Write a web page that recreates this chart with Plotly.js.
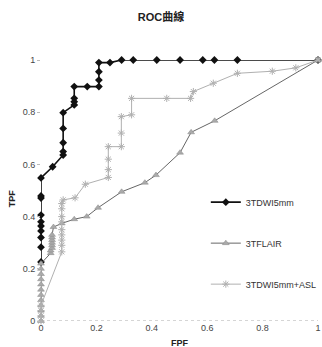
<!DOCTYPE html>
<html><head><meta charset="utf-8">
<script src="https://cdn.plot.ly/plotly-3.0.1.min.js"></script>
<style>html,body{margin:0;padding:0;background:#fff}#c{width:322px;height:347px}</style>
</head><body><div id="c"></div>
<script>
const dwiName = "3TDWI5mm";
const dwiX = [0,0,0,0,0,0,0,0,0,0,0.042,0.08,0.08,0.08,0.08,0.08,0.12,0.12,0.12,0.12,0.167,0.209,0.209,0.209,0.209,0.249,0.291,0.333,0.418,0.502,0.584,0.626,0.709,1];
const dwiY = [0.226,0.283,0.32,0.345,0.364,0.38,0.406,0.471,0.479,0.548,0.591,0.636,0.649,0.683,0.738,0.798,0.828,0.84,0.853,0.898,0.898,0.898,0.923,0.955,0.99,0.99,1,1,1,1,1,1,1,1];

const flairName = "3TFLAIR";
const flairX = [0,0,0,0,0,0,0,0,0,0,0,0,0.035,0.035,0.04,0.04,0.04,0.04,0.04,0.04,0.045,0.075,0.12,0.165,0.206,0.291,0.375,0.415,0.502,0.542,0.627,1];
const flairY = [0,0.02,0.04,0.06,0.08,0.1,0.12,0.14,0.16,0.18,0.2,0.22,0.26,0.27,0.28,0.29,0.3,0.31,0.32,0.33,0.36,0.374,0.39,0.4,0.434,0.495,0.53,0.559,0.645,0.723,0.767,1];

const aslName = "3TDWI5mm+ASL";
const aslX = [0,0,0,0,0.075,0.075,0.075,0.075,0.075,0.075,0.075,0.075,0.075,0.08,0.123,0.16,0.243,0.243,0.243,0.243,0.29,0.29,0.29,0.327,0.327,0.454,0.54,0.55,0.622,0.709,0.835,0.92,1];
const aslY = [0,0.02,0.04,0.06,0.265,0.29,0.31,0.33,0.35,0.38,0.4,0.43,0.45,0.464,0.472,0.524,0.55,0.58,0.62,0.668,0.668,0.72,0.783,0.79,0.853,0.853,0.853,0.879,0.911,0.949,0.957,0.97,1];

const ticks = [0,0.2,0.4,0.6,0.8,1];
const tickText = ["0","0.2","0.4","0.6","0.8","1"];

const traces = [
  {x: dwiX, y: dwiY, name: dwiName, legendgroup: "a", type: "scatter", mode: "lines+markers",
   line: {color: "#111", width: 1.6}, marker: {symbol: "diamond", size: 6, color: "#111"}, cliponaxis: false},
  {x: flairX, y: flairY, name: flairName, legendgroup: "b", type: "scatter", mode: "lines+markers",
   line: {color: "#666", width: 1}, marker: {symbol: "triangle-up", size: 6, color: "#aaa", line: {color: "#888", width: 0.5}}, cliponaxis: false},
  {x: aslX, y: aslY, name: aslName, legendgroup: "c", type: "scatter", mode: "lines+markers",
   line: {color: "#b0b0b0", width: 1}, marker: {symbol: "asterisk-open", size: 6, color: "#b0b0b0", line: {color: "#aaa", width: 1}}, cliponaxis: false}
];

const layout = {
  width: 322, height: 347,
  margin: {l: 41, r: 4, t: 60, b: 26, autoexpand: false},
  paper_bgcolor: "#fff", plot_bgcolor: "#fff",
  font: {family: "Liberation Sans, Arial, 'Noto Sans CJK TC', sans-serif", size: 9, color: "#333"},
  title: {text: "<b>ROC曲線</b>", x: 0.5, xanchor: "center", y: 0.95, yanchor: "middle",
          font: {family: "Liberation Sans, 'Noto Sans CJK TC', sans-serif", size: 11, color: "#222"}},
  xaxis: {range: [0, 1], tickvals: ticks, ticktext: tickText, showgrid: false, zeroline: false, automargin: false,
          showline: false, ticks: "", tickfont: {size: 9, color: "#444"}},
  yaxis: {range: [0, 1], tickvals: ticks, ticktext: tickText, showgrid: false, zeroline: false, automargin: false,
          showline: false, ticks: "outside", ticklen: 3, tickcolor: "#bbb", tickfont: {size: 9, color: "#444"}},
  annotations: [
    {text: "<b>FPF</b>", xref: "paper", yref: "paper", x: 0.5, y: -0.058, xanchor: "center", yanchor: "top",
     showarrow: false, font: {size: 9, color: "#222"}},
    {text: "<b>TPF</b>", xref: "paper", yref: "paper", x: -0.105, y: 0.47, xanchor: "center", yanchor: "middle",
     textangle: -90, showarrow: false, font: {size: 9, color: "#222"}}
  ],
  shapes: [{type: "line", xref: "paper", yref: "y", x0: 0, x1: 1, y0: 0, y1: 0,
            line: {color: "#aaa", width: 1, dash: "dot"}, layer: "below"}],
  showlegend: true,
  legend: {x: 0.595, y: 0.511, xanchor: "left", yanchor: "top", tracegroupgap: 22,
           bgcolor: "rgba(0,0,0,0)", itemwidth: 30, font: {size: 9, color: "#333"}}
};

Plotly.newPlot("c", traces, layout, {displayModeBar: false, staticPlot: true});
</script>
</body></html>
